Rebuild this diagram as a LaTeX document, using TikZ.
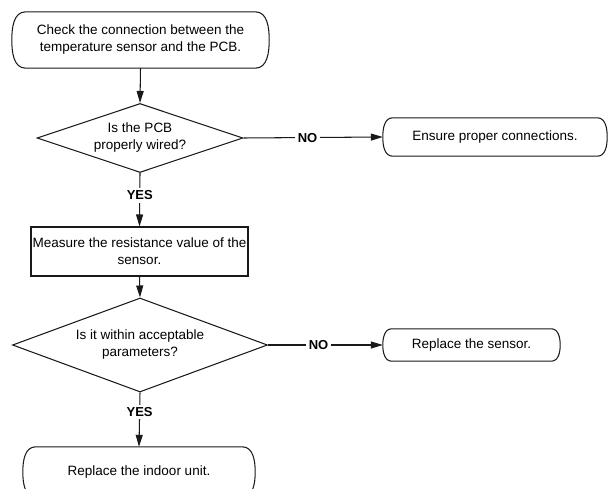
\documentclass[tikz,border=0pt]{standalone}
\usepackage{fontspec}
\setmainfont{Liberation Sans}
\usetikzlibrary{shapes.geometric,arrows.meta}
\newcommand\termshape[2]{%
  \draw[line] ([xshift=#2]#1.north west) -- ([xshift=-#2]#1.north east)
    to[out=0,in=90] (#1.east) to[out=-90,in=0] ([xshift=-#2]#1.south east)
    -- ([xshift=#2]#1.south west) to[out=180,in=-90] (#1.west)
    to[out=90,in=180] ([xshift=#2]#1.north west) -- cycle;}
\tikzset{
  line/.style={line width=1.05pt, draw=black!90},
  txt/.style={font=\fontsize{13.5}{17}\selectfont, align=center, inner sep=0pt, text=black},
  term/.style={txt, draw=none, rectangle},
  procbox/.style={txt, line, rectangle},
  decision/.style={txt, line, shape=diamond, inner sep=0pt},
  flow/.style={line, -{Triangle[length=12pt,width=7pt]}},
  lab/.style={font=\fontsize{13}{15}\selectfont\bfseries, fill=white, inner sep=2.5pt, text=black}
}
\begin{document}
\begin{tikzpicture}[x=1pt,y=-1pt]
\useasboundingbox (0,0) rectangle (608,489);
\node[term, minimum width=257pt, minimum height=56pt] (top) at (140.5,40)
  {Check the connection between the\\temperature sensor and the PCB.};
\termshape{top}{14pt}
\node[decision, minimum width=206pt, minimum height=69pt, shape aspect=2.99] (d1) at (140,138)
  {Is the PCB\\properly wired?};
\node[term, minimum width=224pt, minimum height=38pt] (ensure) at (495,137)
  {Ensure proper connections.};
\termshape{ensure}{10pt}
\node[procbox, minimum width=217pt, minimum height=49pt] (meas) at (139.5,251.5)
  {Measure the resistance value of the\\sensor.};
\node[decision, minimum width=255pt, minimum height=94pt, shape aspect=2.71] (d2) at (140,345)
  {Is it within acceptable\\parameters?};
\node[term, minimum width=177pt, minimum height=32pt] (sensor) at (471.5,345)
  {Replace the sensor.};
\termshape{sensor}{9pt}
\node[term, minimum width=232pt, minimum height=50pt] (indoor) at (139,472)
  {Replace the indoor unit.};
\termshape{indoor}{13pt}

\draw[flow] (top.south) -- (d1.north);
\draw[flow] (d1.east) -- node[lab, pos=0.46] {NO} (ensure.west);
\draw[flow] (d1.south) -- node[lab, pos=0.42] {YES} (meas.north);
\draw[flow] (meas.south) -- (d2.north);
\draw[flow] (d2.east) -- node[lab, pos=0.44] {NO} (sensor.west);
\draw[flow] (d2.south) -- node[lab, pos=0.36] {YES} (indoor.north);
\end{tikzpicture}
\end{document}
